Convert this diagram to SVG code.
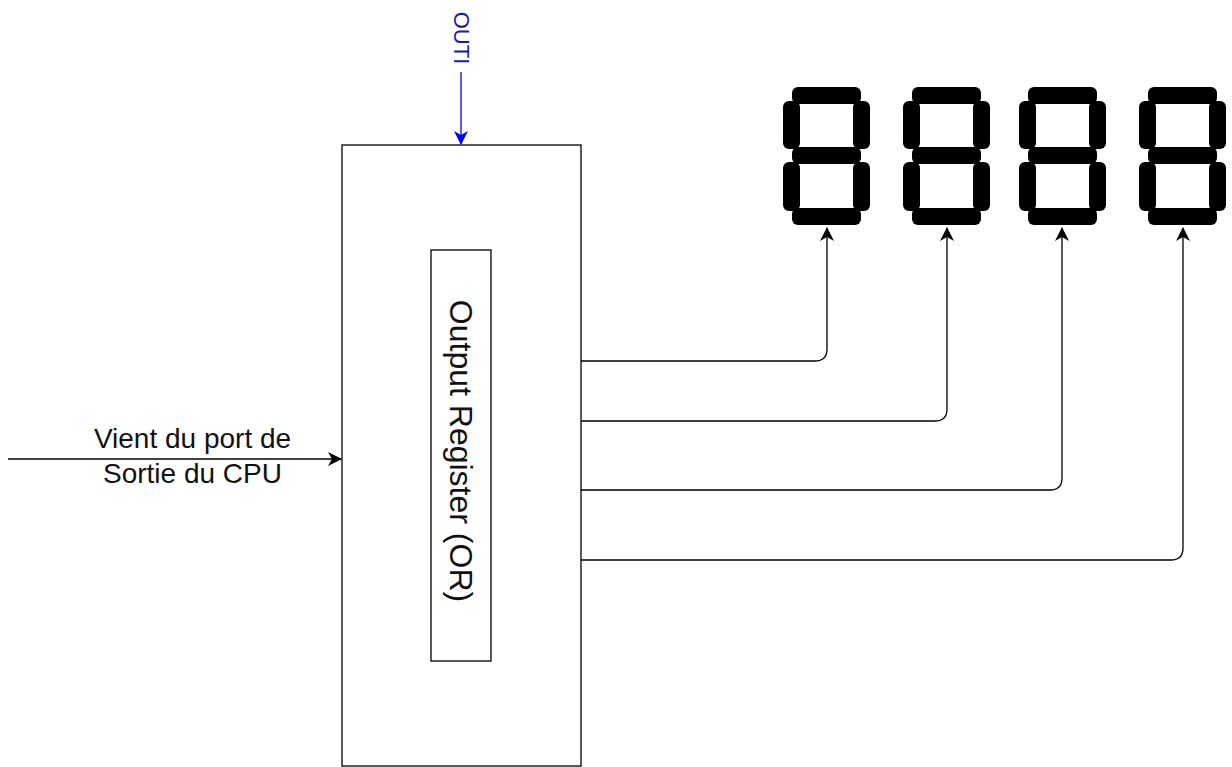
<svg xmlns="http://www.w3.org/2000/svg" width="1232" height="767" viewBox="0 0 1232 767">
  <style>
    .box { fill: #ffffff; stroke: #000000; stroke-width: 1.3; }
    .conn { fill: none; stroke: #000000; stroke-width: 1.3; }
    .blue { fill: none; stroke: #0000ff; stroke-width: 1.3; }
    .lbl { font-family: "Liberation Sans", Arial, sans-serif; fill: #111111; }
    .seg { fill: #000000; }
  </style>
  <defs>
    <marker id="arr" viewBox="0 0 14 14" markerUnits="userSpaceOnUse" markerWidth="14" markerHeight="14" refX="13" refY="7" orient="auto">
      <path d="M0,0 L14,7 L0,14 L4,7 Z" fill="#000000"/>
    </marker>
    <marker id="arrBlue" viewBox="0 0 14 14" markerUnits="userSpaceOnUse" markerWidth="14" markerHeight="14" refX="13" refY="7" orient="auto">
      <path d="M0,0 L14,7 L0,14 L4,7 Z" fill="#0000ff"/>
    </marker>
    <g id="digit">
      <rect class="seg" x="9" y="0" width="69" height="17" rx="6"/>
      <rect class="seg" x="0" y="14" width="17" height="48" rx="6"/>
      <rect class="seg" x="70" y="14" width="17" height="48" rx="6"/>
      <rect class="seg" x="9" y="60" width="69" height="17" rx="6"/>
      <rect class="seg" x="0" y="75" width="17" height="49" rx="6"/>
      <rect class="seg" x="70" y="75" width="17" height="49" rx="6"/>
      <rect class="seg" x="9" y="121" width="69" height="17" rx="6"/>
    </g>
  </defs>
  <rect width="1232" height="767" fill="#ffffff"/>

  <g id="connectors">
    <path class="conn" d="M8,459 H341" marker-end="url(#arr)"/>
    <path class="blue" d="M461,72 V144" marker-end="url(#arrBlue)"/>
    <path class="conn" d="M581,361 H815 Q827,361 827,349 V228" marker-end="url(#arr)"/>
    <path class="conn" d="M581,421 H935 Q947,421 947,409 V228" marker-end="url(#arr)"/>
    <path class="conn" d="M581,490 H1050 Q1062,490 1062,478 V228" marker-end="url(#arr)"/>
    <path class="conn" d="M581,560 H1171 Q1183,560 1183,548 V228" marker-end="url(#arr)"/>
  </g>

  <g id="outer-box">
    <rect class="box" x="342" y="145" width="239" height="621"/>
  </g>

  <g id="output-register">
    <rect class="box" x="431" y="250" width="60" height="411"/>
    <text class="lbl" font-size="32" text-anchor="middle" dominant-baseline="central" transform="translate(461,451) rotate(90)">Output Register (OR)</text>
  </g>

  <g id="outi-label">
    <text font-family="Liberation Sans, Arial, sans-serif" font-size="22" fill="#1a1aaa" text-anchor="middle" dominant-baseline="central" transform="translate(461,38) rotate(90)">OUTI</text>
  </g>

  <g id="input-label">
    <text class="lbl" font-size="28" text-anchor="middle" x="192.5" y="448">Vient du port de</text>
    <text class="lbl" font-size="28" text-anchor="middle" x="192.5" y="483">Sortie du CPU</text>
  </g>

  <g id="digit-1"><use href="#digit" x="783" y="87"/></g>
  <g id="digit-2"><use href="#digit" x="903" y="87"/></g>
  <g id="digit-3"><use href="#digit" x="1019" y="87"/></g>
  <g id="digit-4"><use href="#digit" x="1139" y="87"/></g>
</svg>
